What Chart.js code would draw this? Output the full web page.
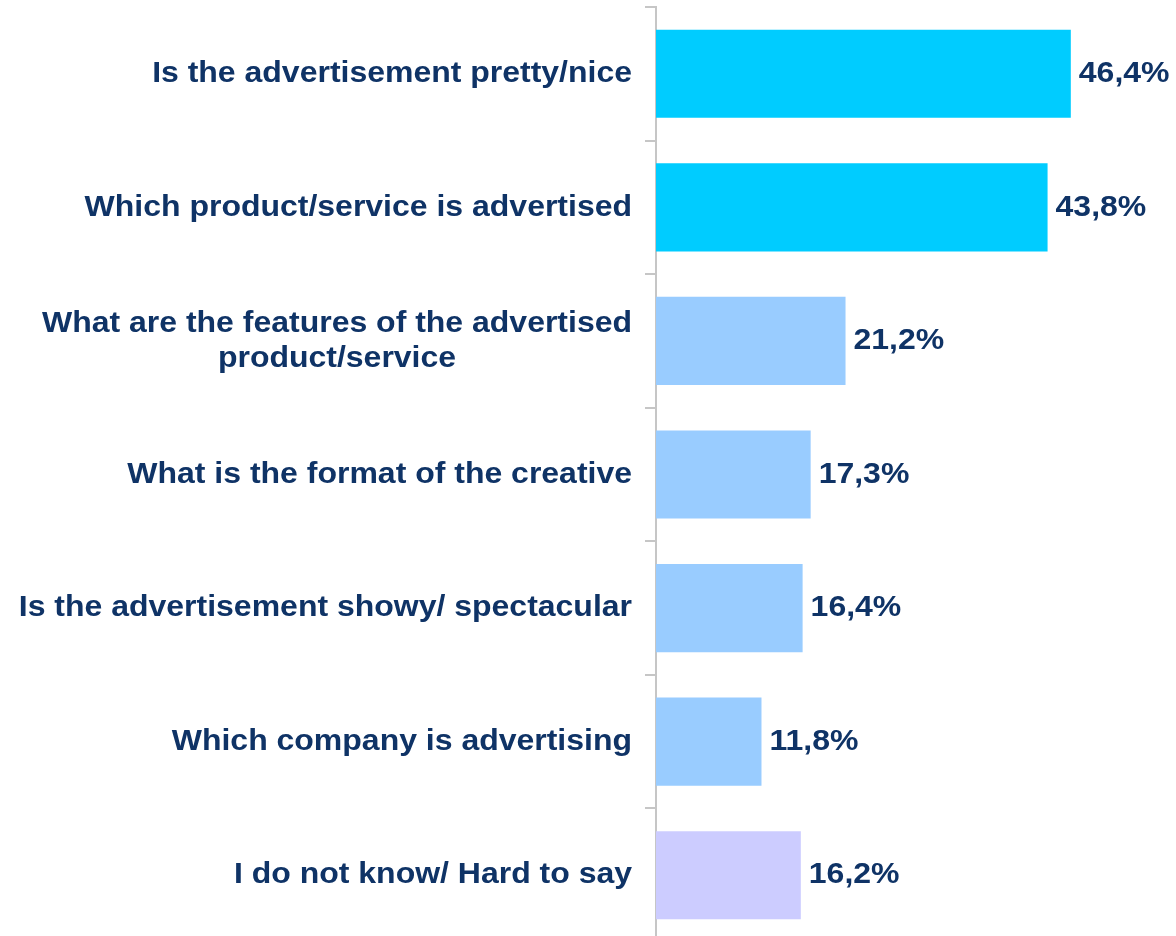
<!DOCTYPE html>
<html>
<head>
<meta charset="utf-8">
<script src="https://cdn.jsdelivr.net/npm/chart.js@4"></script>
<style>
  html, body { margin: 0; padding: 0; background: #fff; overflow: hidden; }
  #wrap { position: relative; width: 1176px; height: 944px; }
</style>
</head>
<body>
<div id="wrap"><canvas id="chart"></canvas></div>
<script>
// answers (share of respondents, %)
const categories = [
  'Is the advertisement pretty/nice',
  'Which product/service is advertised',
  ['What are the features of the advertised', 'product/service'],
  'What is the format of the creative',
  'Is the advertisement showy/ spectacular',
  'Which company is advertising',
  'I do not know/ Hard to say',
];
const values = [46.4, 43.8, 21.2, 17.3, 16.4, 11.8, 16.2];
const barColors = ['#00CCFF', '#00CCFF', '#99CCFF', '#99CCFF', '#99CCFF', '#99CCFF', '#CCCCFF'];

const TEXT = '#0F3366';
const FONT = 'bold 30px "Liberation Sans", Arial, sans-serif';
const STRETCH = 1.066; // text is a bit wider than plain Arial

function drawText(ctx, txt, x, y, align) {
  const w = ctx.measureText(txt).width * STRETCH;
  ctx.save();
  ctx.translate(align === 'left' ? x : align === 'right' ? x - w : x - w / 2, y);
  ctx.scale(STRETCH, 1);
  ctx.textAlign = 'left';
  ctx.fillText(txt, 0, 0);
  ctx.restore();
}

// category labels: right-aligned block, multi-line ones centred inside
const yLabels = {
  id: 'yLabels',
  afterDraw(chart) {
    const { ctx, scales } = chart;
    const y = scales.y;
    const right = chart.chartArea.left - 24;
    ctx.save();
    ctx.font = FONT;
    ctx.fillStyle = TEXT;
    ctx.textBaseline = 'middle';
    categories.forEach((lab, i) => {
      const lines = Array.isArray(lab) ? lab : [lab];
      const w = Math.max(...lines.map(l => ctx.measureText(l).width)) * STRETCH;
      const cx = right - w / 2;
      const cy = y.getPixelForValue(i);
      const lh = 35;
      lines.forEach((l, j) => {
        drawText(ctx, l, cx, cy + (j - (lines.length - 1) / 2) * lh, 'center');
      });
    });
    ctx.restore();
  },
};

// value labels at the bar ends
const valueLabels = {
  id: 'valueLabels',
  afterDatasetsDraw(chart) {
    const { ctx } = chart;
    const meta = chart.getDatasetMeta(0);
    ctx.save();
    ctx.font = FONT;
    ctx.fillStyle = TEXT;
    ctx.textBaseline = 'middle';
    meta.data.forEach((bar, i) => {
      const txt = values[i].toFixed(1).replace('.', ',') + '%';
      drawText(ctx, txt, bar.x + 8, bar.y, 'left');
    });
    ctx.restore();
  },
};

new Chart(document.getElementById('chart'), {
  type: 'bar',
  data: {
    labels: categories,
    datasets: [{
      data: values,
      backgroundColor: barColors,
      borderWidth: 0,
      barPercentage: 0.66,
      categoryPercentage: 1,
    }],
  },
  options: {
    indexAxis: 'y',
    responsive: true,
    maintainAspectRatio: false,
    animation: false,
    layout: { padding: { left: 0, right: 73, top: 7, bottom: 2 } },
    plugins: {
      legend: { display: false },
      tooltip: { enabled: false },
    },
    scales: {
      x: {
        display: false,
        min: 0,
        max: 50,
      },
      y: {
        ticks: { display: false },
        grid: {
          offset: true,
          drawOnChartArea: false,
          drawTicks: true,
          tickLength: 11,
          color: '#C6C6C6',
          lineWidth: 2,
        },
        border: { color: '#C6C6C6', width: 2 },
        afterFit(scale) { scale.width = 656; },
      },
    },
  },
  plugins: [yLabels, valueLabels],
});
</script>
</body>
</html>
